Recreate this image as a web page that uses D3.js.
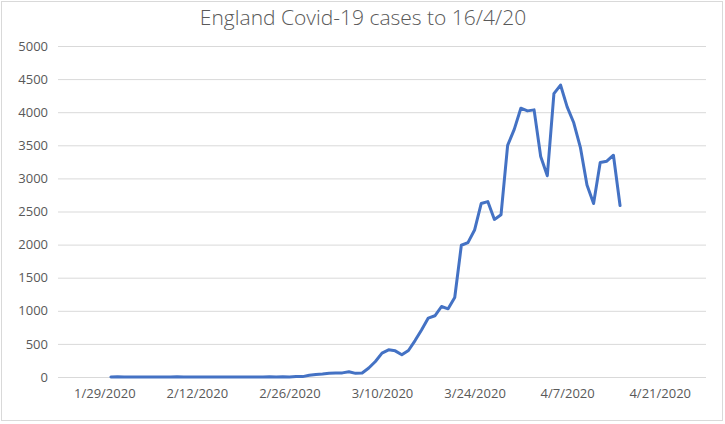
<!DOCTYPE html>
<html>
<head>
<meta charset="utf-8">
<script src="https://cdn.jsdelivr.net/npm/d3@7"></script>
<style>
  html, body { margin: 0; padding: 0; background: #fff; }
  svg { display: block; }
</style>
</head>
<body>
<svg id="chart" width="725" height="424"></svg>
<script>
// ---- data ----
const title = "England Covid-19 cases to 16/4/20";
// daily cases, one value per category (day row) starting 1/30/2020
const cases = [
  0, 2, 0, 0, 0, 0, 1, 1, 0, 1,
  4, 0, 1, 0, 0, 0, 0, 0, 0, 0,
  0, 0, 1, 0, 4, 0, 4, 0, 7, 6,
  25, 38, 45, 55, 60, 62, 80, 55, 60, 135,
  235, 360, 410, 395, 335, 400, 550, 715, 890, 925,
  1065, 1030, 1200, 1990, 2030, 2220, 2620, 2650, 2380, 2450,
  3500, 3740, 4060, 4020, 4035, 3330, 3040, 4280, 4410, 4080,
  3840, 3470, 2900, 2620, 3240, 3260, 3350, 2590
];
// category axis: 99 day rows, labels every 14 rows
const categoryCount = 99;
const seriesStartCategory = 8;
const xTickCategories = [7, 21, 35, 49, 63, 77, 91];
const xTickLabels = ["1/29/2020", "2/12/2020", "2/26/2020", "3/10/2020", "3/24/2020", "4/7/2020", "4/21/2020"];
const yTicks = [0, 500, 1000, 1500, 2000, 2500, 3000, 3500, 4000, 4500, 5000];

// ---- setup ----
const series = cases.map((v, i) => ({ cat: seriesStartCategory + i, value: v }));

const svg = d3.select("#chart");
const W = 725, H = 424;
const plot = { left: 58, right: 706, top: 46, bottom: 377 };
const textColor = "#595959";
const gridColor = "#d9d9d9";
const font = "'Open Sans', 'Liberation Sans', sans-serif";

// chart border
svg.append("rect")
  .attr("x", 1.5).attr("y", 1.5)
  .attr("width", W - 4).attr("height", H - 5)
  .attr("fill", "#fff")
  .attr("stroke", gridColor).attr("stroke-width", 1);

const x = d3.scaleLinear()
  .domain([0, categoryCount - 1])
  .range([plot.left, plot.right]);

const y = d3.scaleLinear()
  .domain([0, 5000])
  .range([plot.bottom, plot.top]);

// title
svg.append("text")
  .attr("x", 363).attr("y", 25)
  .attr("text-anchor", "middle")
  .attr("font-family", font)
  .attr("font-size", 21)
  .attr("font-weight", 300)
  .attr("fill", textColor)
  .text(title);

// y gridlines + labels via axis
const yAxis = d3.axisLeft(y)
  .tickValues(yTicks)
  .tickSize(-(plot.right - plot.left))
  .tickPadding(10)
  .tickFormat(d3.format("d"));

const gy = svg.append("g")
  .attr("transform", `translate(${plot.left},0)`)
  .call(yAxis);
gy.select(".domain").remove();
gy.selectAll(".tick line").attr("stroke", gridColor).attr("stroke-width", 1);
gy.selectAll(".tick text")
  .attr("fill", textColor)
  .attr("font-family", font)
  .attr("font-size", 13);

// x axis labels
const xAxis = d3.axisBottom(x)
  .tickValues(xTickCategories)
  .tickSize(0)
  .tickPadding(12)
  .tickFormat((d, i) => xTickLabels[i]);

const gx = svg.append("g")
  .attr("transform", `translate(0,${plot.bottom})`)
  .call(xAxis);
gx.select(".domain").remove();
gx.selectAll(".tick text")
  .attr("fill", textColor)
  .attr("font-family", font)
  .attr("font-size", 13);

// line
const line = d3.line()
  .x(d => x(d.cat))
  .y(d => y(d.value));

svg.append("path")
  .datum(series)
  .attr("d", line)
  .attr("fill", "none")
  .attr("stroke", "#4472C4")
  .attr("stroke-width", 3)
  .attr("stroke-linejoin", "round")
  .attr("stroke-linecap", "round");
</script>
</body>
</html>
